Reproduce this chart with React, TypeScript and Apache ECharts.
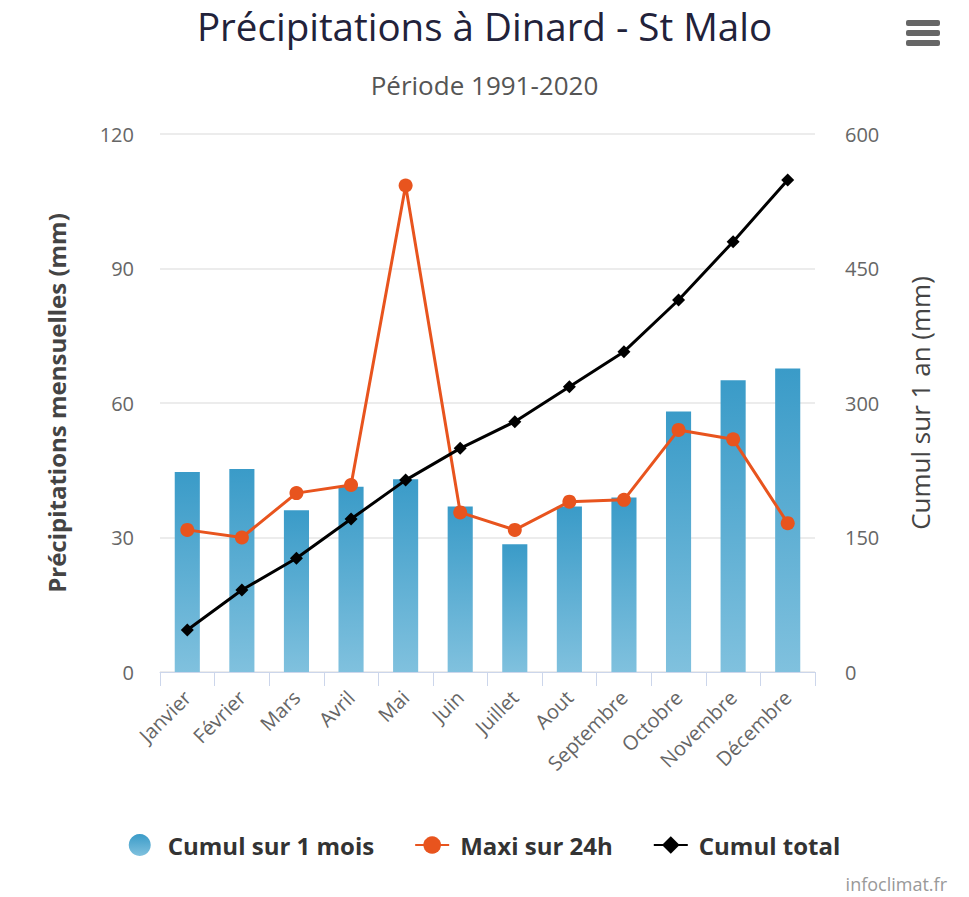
import React, { useEffect, useRef } from "react";
import * as echarts from "echarts";

// Monthly precipitation normals, Dinard - St Malo, 1991-2020
const months = [
  "Janvier", "Février", "Mars", "Avril", "Mai", "Juin",
  "Juillet", "Aout", "Septembre", "Octobre", "Novembre", "Décembre",
];
const cumulMois = [44.6, 45.3, 36.1, 41.3, 43.0, 36.9, 28.5, 36.9, 38.9, 58.1, 65.1, 67.7];
const maxi24h = [31.7, 30.0, 39.9, 41.7, 108.5, 35.6, 31.7, 38.0, 38.4, 54.0, 51.9, 33.2];
const cumulTotal = [46.8, 91.4, 126.8, 170.6, 214.0, 249.4, 279.2, 318.2, 357.2, 414.9, 479.9, 548.7];

const FONT = "'Open Sans', 'DejaVu Sans', sans-serif";

export default function App() {
  const ref = useRef<HTMLDivElement>(null);

  useEffect(() => {
    if (!ref.current) return;
    const chart = echarts.init(ref.current, null, { renderer: "svg" });
    chart.setOption({
      animation: false,
      backgroundColor: "#ffffff",
      textStyle: { fontFamily: FONT },
      title: [
        {
          text: "Précipitations à Dinard - St Malo",
          left: "center",
          top: 1,
          textStyle: { fontFamily: FONT, fontSize: 38.5, fontWeight: "normal", color: "#22223a" },
        },
        {
          text: "Période 1991-2020",
          left: "center",
          top: 67,
          textStyle: { fontFamily: FONT, fontSize: 26, fontWeight: "normal", color: "#555555" },
        },
      ],
      grid: { left: 160, right: 154, top: 134, bottom: 225 },
      legend: {
        bottom: 35,
        left: "center",
        itemGap: 40,
        itemWidth: 34,
        itemHeight: 22,
        textStyle: {
          fontFamily: FONT,
          fontSize: 24,
          fontWeight: "bold",
          color: "#333333",
          padding: [0, 0, 0, 6],
        },
        data: [
          { name: "Cumul sur 1 mois", icon: "circle" },
          { name: "Maxi sur 24h" },
          { name: "Cumul total" },
        ],
      },
      xAxis: {
        type: "category",
        data: months,
        boundaryGap: true,
        axisLine: { lineStyle: { color: "#ccd6eb" } },
        axisTick: { show: true, length: 14, lineStyle: { color: "#ccd6eb" } },
        axisLabel: { rotate: 45, color: "#666666", fontSize: 20, fontFamily: FONT, margin: 22, interval: 0 },
      },
      yAxis: [
        {
          type: "value",
          min: 0,
          max: 120,
          interval: 30,
          name: "Précipitations mensuelles (mm)",
          nameLocation: "middle",
          nameGap: 92,
          nameTextStyle: { fontFamily: FONT, fontSize: 24, fontWeight: "bold", color: "#444444" },
          axisLine: { show: false },
          axisTick: { show: false },
          axisLabel: { color: "#666666", fontSize: 20, fontFamily: FONT, margin: 26 },
          splitLine: { lineStyle: { color: "#e6e6e6", width: 1.5 } },
        },
        {
          type: "value",
          min: 0,
          max: 600,
          interval: 150,
          name: "Cumul sur 1 an (mm)",
          nameLocation: "middle",
          nameGap: 92,
          nameTextStyle: { fontFamily: FONT, fontSize: 26, color: "#444444" },
          axisLine: { show: false },
          axisTick: { show: false },
          axisLabel: { color: "#666666", fontSize: 20, fontFamily: FONT, margin: 30 },
          splitLine: { show: false },
        },
      ],
      series: [
        {
          name: "Cumul sur 1 mois",
          type: "bar",
          yAxisIndex: 0,
          data: cumulMois,
          barWidth: "46%",
          itemStyle: {
            color: new echarts.graphic.LinearGradient(0, 0, 0, 1, [
              { offset: 0, color: "#3a9bc8" },
              { offset: 1, color: "#80c1de" },
            ]),
          },
          z: 1,
        },
        {
          name: "Maxi sur 24h",
          type: "line",
          yAxisIndex: 0,
          data: maxi24h,
          symbol: "circle",
          symbolSize: 14,
          lineStyle: { color: "#e8541e", width: 3 },
          itemStyle: { color: "#e8541e" },
          z: 3,
        },
        {
          name: "Cumul total",
          type: "line",
          yAxisIndex: 1,
          data: cumulTotal,
          symbol: "diamond",
          symbolSize: 13,
          lineStyle: { color: "#000000", width: 3 },
          itemStyle: { color: "#000000" },
          z: 4,
        },
      ],
      graphic: [
        // menu button
        { type: "rect", shape: { x: 906, y: 20, width: 34, height: 6, r: 2 }, style: { fill: "#666666" } },
        { type: "rect", shape: { x: 906, y: 30, width: 34, height: 6, r: 2 }, style: { fill: "#666666" } },
        { type: "rect", shape: { x: 906, y: 40, width: 34, height: 6, r: 2 }, style: { fill: "#666666" } },
        {
          type: "text",
          right: 22,
          bottom: 4,
          style: { text: "infoclimat.fr", fill: "#999999", fontSize: 18, fontFamily: FONT },
        },
      ],
    });
    return () => chart.dispose();
  }, []);

  return (
    <div
      ref={ref}
      style={{ position: "fixed", left: 0, top: 0, width: 969, height: 897 }}
    />
  );
}
